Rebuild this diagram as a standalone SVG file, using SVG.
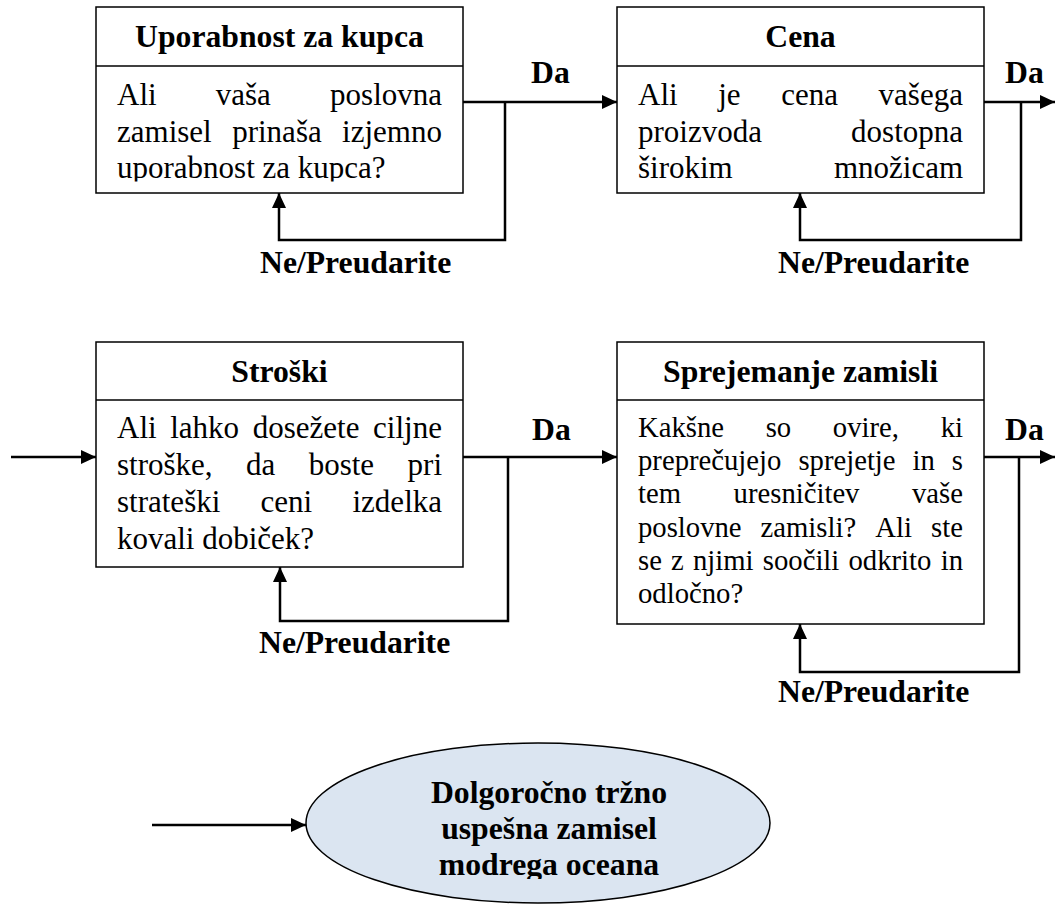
<svg xmlns="http://www.w3.org/2000/svg" width="1055" height="907" viewBox="0 0 1055 907">
<style>
.box{fill:#fff;stroke:#000;stroke-width:1.5}
.t{font-family:"Liberation Serif","Times New Roman",serif;fill:#000}
.title{font-weight:bold;font-size:31.7px;text-anchor:middle}
.b12{font-size:31px}
.b11{font-size:28.7px}
.lbl{font-weight:bold;font-size:31.7px}
.conn{fill:none;stroke:#000;stroke-width:2.5}
.ell{fill:#dbe5f1;stroke:#000;stroke-width:1.5}
</style>
<defs>
<marker id="arr" markerUnits="userSpaceOnUse" markerWidth="15" markerHeight="14" refX="15" refY="7" orient="auto">
<path d="M0,0 L15,7 L0,14 z" fill="#000"/>
</marker>
<clipPath id="cTop"><rect x="96" y="66" width="890" height="115.5"/></clipPath>
<clipPath id="cEll"><rect x="300" y="740" width="480" height="139"/></clipPath>
</defs>

<g id="connectors">
<path class="conn" d="M463,102 H617" marker-end="url(#arr)"/>
<path class="conn" d="M505,102 V240 H279 V193" marker-end="url(#arr)"/>
<path class="conn" d="M984,102 H1055" marker-end="url(#arr)"/>
<path class="conn" d="M1021,102 V240 H800 V193" marker-end="url(#arr)"/>
<path class="conn" d="M11,457 H96" marker-end="url(#arr)"/>
<path class="conn" d="M463,457 H617" marker-end="url(#arr)"/>
<path class="conn" d="M508,457 V621 H280 V567" marker-end="url(#arr)"/>
<path class="conn" d="M984,457 H1055" marker-end="url(#arr)"/>
<path class="conn" d="M1019,457 V672 H800 V624" marker-end="url(#arr)"/>
<path class="conn" d="M152,825 H306" marker-end="url(#arr)"/>
<text class="t lbl" x="531" y="83">Da</text>
<text class="t lbl" x="1005" y="83">Da</text>
<text class="t lbl" x="260" y="273">Ne/Preudarite</text>
<text class="t lbl" x="778" y="273">Ne/Preudarite</text>
<text class="t lbl" x="532" y="440">Da</text>
<text class="t lbl" x="1005" y="440">Da</text>
<text class="t lbl" x="259" y="653">Ne/Preudarite</text>
<text class="t lbl" x="778" y="702">Ne/Preudarite</text>
</g>

<g id="uporabnost">
<rect class="box" x="96" y="7" width="367" height="186"/>
<line class="box" x1="96" y1="66" x2="463" y2="66"/>
<text class="t title" x="279.5" y="47">Uporabnost za kupca</text>
<g clip-path="url(#cTop)">
<text class="t b12" y="105"><tspan x="117">Ali</tspan><tspan x="215.8">vaša</tspan><tspan x="330.1">poslovna</tspan></text>
<text class="t b12" y="142"><tspan x="117">zamisel</tspan><tspan x="232.2">prinaša</tspan><tspan x="342.1">izjemno</tspan></text>
<text class="t b12" x="117" y="178">uporabnost za kupca?</text>
</g>
</g>

<g id="cena">
<rect class="box" x="617" y="7" width="367" height="186"/>
<line class="box" x1="617" y1="66" x2="984" y2="66"/>
<text class="t title" x="800.5" y="47">Cena</text>
<g clip-path="url(#cTop)">
<text class="t b12" y="105"><tspan x="638">Ali</tspan><tspan x="718.2">je</tspan><tspan x="781.2">cena</tspan><tspan x="878.6">vašega</tspan></text>
<text class="t b12" y="142"><tspan x="638">proizvoda</tspan><tspan x="851.1">dostopna</tspan></text>
<text class="t b12" y="178"><tspan x="638">širokim</tspan><tspan x="833.9">množicam</tspan></text>
</g>
</g>

<g id="stroski">
<rect class="box" x="96" y="342" width="367" height="225"/>
<line class="box" x1="96" y1="400" x2="463" y2="400"/>
<text class="t title" x="279.5" y="382">Stroški</text>
<text class="t b12" y="438"><tspan x="117">Ali</tspan><tspan x="170.2">lahko</tspan><tspan x="252.7">dosežete</tspan><tspan x="373.1">ciljne</tspan></text>
<text class="t b12" y="475"><tspan x="117">stroške,</tspan><tspan x="246">da</tspan><tspan x="308.7">boste</tspan><tspan x="407.6">pri</tspan></text>
<text class="t b12" y="512"><tspan x="117">strateški</tspan><tspan x="260.6">ceni</tspan><tspan x="352.5">izdelka</tspan></text>
<text class="t b12" x="117" y="549">kovali dobiček?</text>
</g>

<g id="sprejemanje">
<rect class="box" x="617" y="342" width="367" height="282"/>
<line class="box" x1="617" y1="400" x2="984" y2="400"/>
<text class="t title" x="800.5" y="382">Sprejemanje zamisli</text>
<text class="t b11" y="437"><tspan x="638">Kakšne</tspan><tspan x="765.7">so</tspan><tspan x="832.8">ovire,</tspan><tspan x="940.7">ki</tspan></text>
<text class="t b11" y="470"><tspan x="638">preprečujejo</tspan><tspan x="798.4">sprejetje</tspan><tspan x="912.6">in</tspan><tspan x="951.8">s</tspan></text>
<text class="t b11" y="503"><tspan x="638">tem</tspan><tspan x="733.6">uresničitev</tspan><tspan x="912">vaše</tspan></text>
<text class="t b11" y="537"><tspan x="638">poslovne</tspan><tspan x="760.6">zamisli?</tspan><tspan x="875.3">Ali</tspan><tspan x="931.1">ste</tspan></text>
<text class="t b11" y="570"><tspan x="638">se</tspan><tspan x="671.1">z</tspan><tspan x="693">njimi</tspan><tspan x="762.8">soočili</tspan><tspan x="848.5">odkrito</tspan><tspan x="940.7">in</tspan></text>
<text class="t b11" x="638" y="603">odločno?</text>
</g>

<g id="cilj">
<ellipse class="ell" cx="538" cy="823" rx="232" ry="80"/>
<g clip-path="url(#cEll)">
<text class="t title" x="549" y="803">Dolgoročno tržno</text>
<text class="t title" x="549" y="839">uspešna zamisel</text>
<text class="t title" x="549" y="875">modrega oceana</text>
</g>
</g>
</svg>
